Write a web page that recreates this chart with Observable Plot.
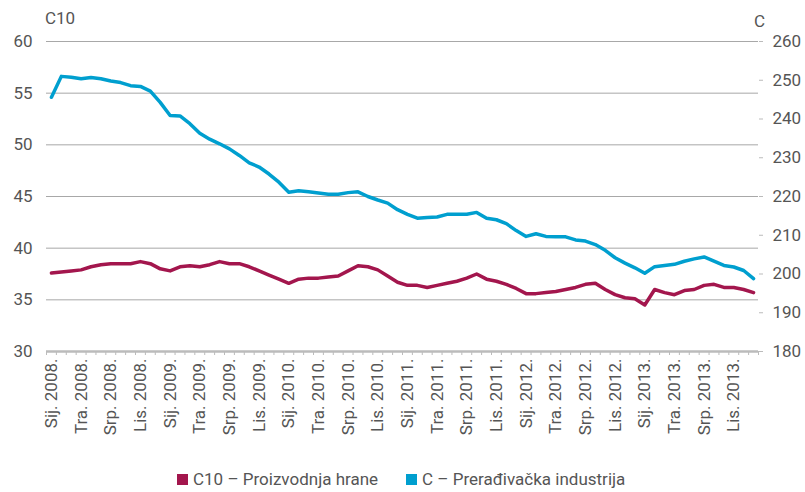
<!DOCTYPE html>
<html><head><meta charset="utf-8">
<script src="https://cdn.jsdelivr.net/npm/d3@7"></script>
<script src="https://cdn.jsdelivr.net/npm/@observablehq/plot@0.6"></script>
<style>
body{margin:0;background:#fff;font-family:Roboto,sans-serif;}
#wrap{position:relative;width:805px;height:492px;overflow:hidden;}
.t{position:absolute;color:#555;font-size:17px;}
.lg{position:absolute;top:469px;font-size:17px;line-height:20px;color:#555;white-space:nowrap;}
.sq{display:inline-block;width:11px;height:11px;margin-right:5px;vertical-align:0px;}
</style></head><body>
<div id="wrap"></div>
<script>
const monthNames = ["Sij.","Velj.","Ožu.","Tra.","Svi.","Lip.","Srp.","Kol.","Ruj.","Lis.","Stu.","Pro."];
const years = [2008, 2009, 2010, 2011, 2012, 2013];
const seriesNames = ["C10 – Proizvodnja hrane", "C – Prerađivačka industrija"];
const colors = ["#a3164d", "#009fcf"];
const c10 = [37.6,37.7,37.8,37.9,38.2,38.4,38.5,38.5,38.5,38.7,
  38.5,38.0,37.8,38.2,38.3,38.2,38.4,38.7,38.5,38.5,
  38.2,37.8,37.4,37.0,36.6,37.0,37.1,37.1,37.2,37.3,
  37.8,38.3,38.2,37.9,37.3,36.7,36.4,36.4,36.2,36.4,
  36.6,36.8,37.1,37.5,37.0,36.8,36.5,36.1,35.6,35.6,
  35.7,35.8,36.0,36.2,36.5,36.6,36.0,35.5,35.2,35.1,
  34.5,36.0,35.7,35.5,35.9,36.0,36.4,36.5,36.2,36.2,
  36.0,35.7];
const cTotal = [245.6,251.0,250.8,250.4,250.7,250.4,249.8,249.4,248.6,248.4,
  247.2,244.3,240.9,240.8,238.8,236.3,234.8,233.6,232.3,230.6,
  228.7,227.6,225.8,223.7,221.1,221.5,221.2,220.9,220.6,220.6,
  221.0,221.2,220.0,219.1,218.3,216.6,215.4,214.4,214.6,214.7,
  215.4,215.4,215.4,215.9,214.4,214.0,213.0,211.2,209.7,210.4,
  209.7,209.6,209.6,208.8,208.5,207.6,206.1,204.2,202.8,201.6,
  200.2,201.9,202.2,202.5,203.3,203.9,204.4,203.3,202.2,201.8,
  200.9,198.8];
const leftTicks = [30,35,40,45,50,55,60];
const rightTicks = [180,190,200,210,220,230,240,250,260];

const labels = [];
years.forEach(y => monthNames.forEach(m => labels.push(`${m} ${y}.`)));
const n = labels.length;
// right axis [180,260] mapped onto left axis [30,60]
const toLeft = v => 30 + (v - 180) * 30 / 80;
const toRight = v => Math.round(180 + (v - 30) * 80 / 30);

const dataA = c10.map((v, i) => ({i, v}));
const dataB = cTotal.map((v, i) => ({i, v: toLeft(v)}));
const boundaries = d3.range(n + 1).map(k => k - 0.5);
const labelTicks = d3.range(0, n, 3);

const chart = Plot.plot({
  width: 805, height: 452,
  marginLeft: 46, marginRight: 47, marginTop: 41, marginBottom: 101,
  style: {color: "#555", fontSize: "17px", fontFamily: "Roboto, sans-serif", background: "#fff"},
  x: {domain: [-0.5, n - 0.5], axis: null},
  y: {domain: [30, 60], axis: null},
  marks: [
    Plot.ruleY(leftTicks.filter(d => d > 30), {stroke: "#a8a8a8", strokeWidth: 1}),
    Plot.axisY(leftTicks, {anchor: "left", tickSize: 0, tickPadding: 14, label: null, fontSize: 17}),
    Plot.axisY(rightTicks.map(toLeft), {anchor: "right", tickSize: 4, tickPadding: 10, stroke: "#bbb", label: null, fontSize: 17, tickFormat: toRight}),
    Plot.axisX(boundaries, {anchor: "bottom", tickSize: 4, stroke: "#bbb", tickFormat: () => "", label: null}),
    Plot.axisX(labelTicks, {anchor: "bottom", tickSize: 0, tickPadding: 7, tickRotate: -90, tickFormat: i => labels[i], label: null, fontSize: 17}),
    Plot.ruleY([30], {stroke: "#bbb", strokeWidth: 2.5}),
    Plot.line(dataB, {x: "i", y: "v", stroke: colors[1], strokeWidth: 3.5}),
    Plot.line(dataA, {x: "i", y: "v", stroke: colors[0], strokeWidth: 3.5})
  ]
});
const wrap = document.getElementById("wrap");
wrap.appendChild(chart);

const t1 = document.createElement("div"); t1.className = "t"; t1.style.left = "45px"; t1.style.top = "8px"; t1.textContent = "C10"; wrap.appendChild(t1);
const t2 = document.createElement("div"); t2.className = "t"; t2.style.left = "754px"; t2.style.top = "11px"; t2.textContent = "C"; wrap.appendChild(t2);
[[177, 0], [406, 1]].forEach(([x, k]) => {
  const d = document.createElement("div"); d.className = "lg"; d.style.left = x + "px";
  d.innerHTML = `<span class="sq" style="background:${colors[k]}"></span>${seriesNames[k]}`;
  wrap.appendChild(d);
});
</script>
</body></html>
